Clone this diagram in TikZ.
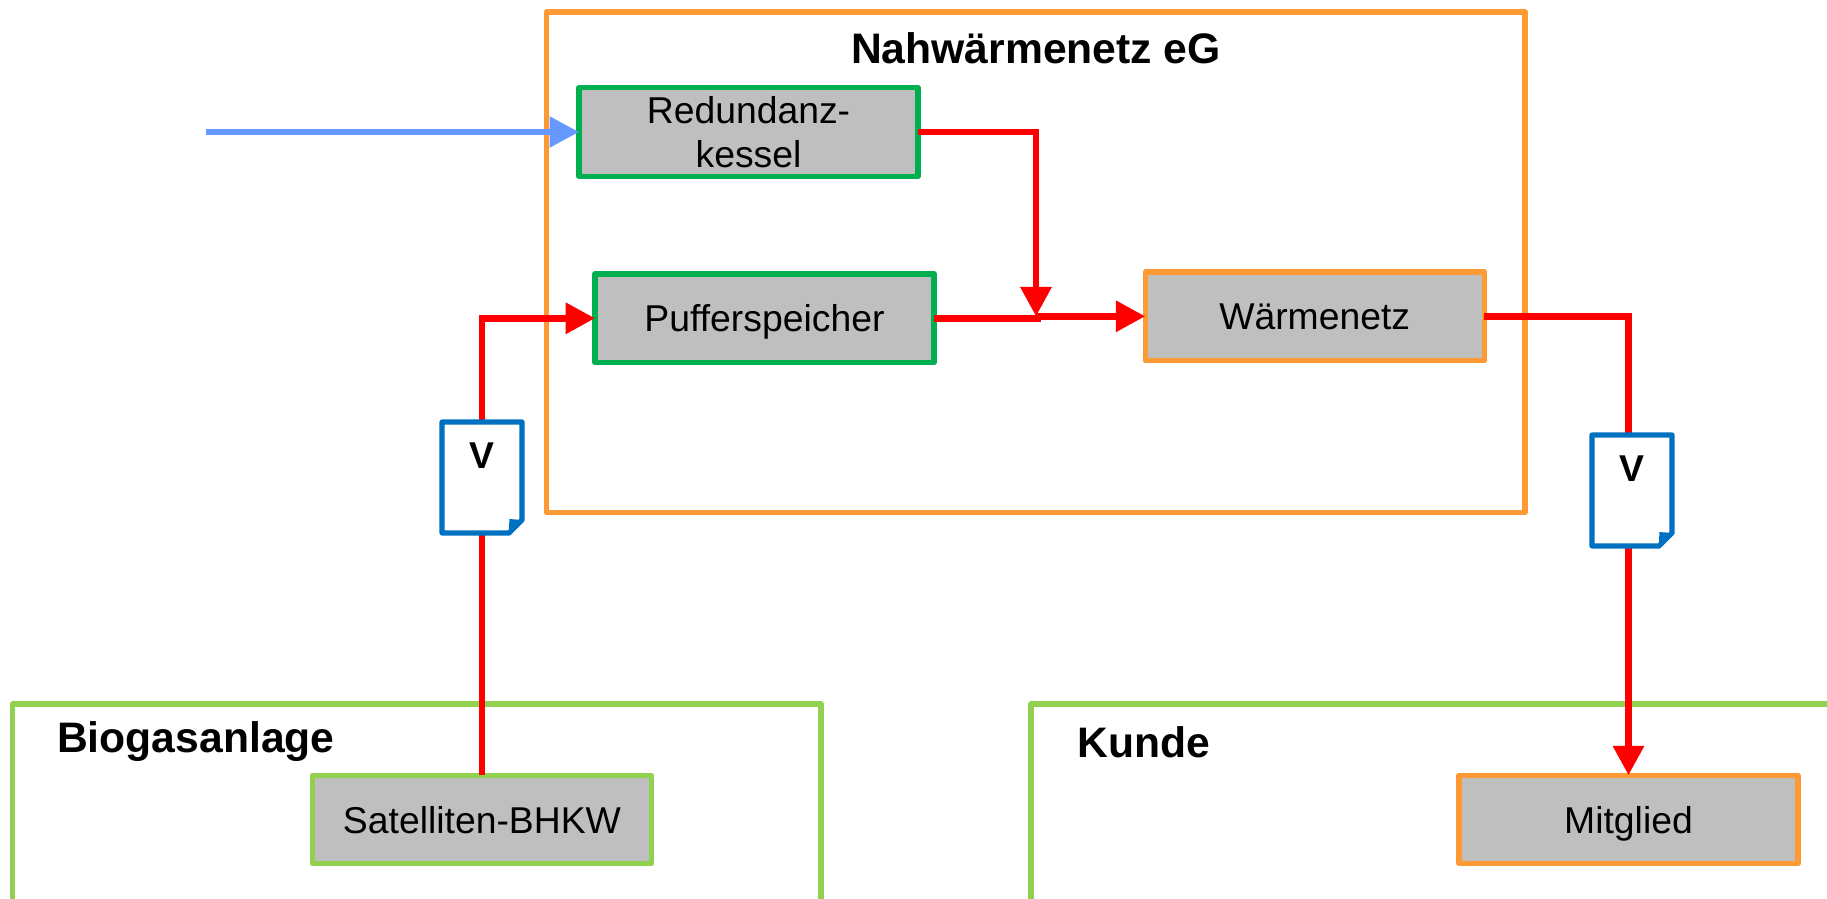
\documentclass[tikz,border=0pt]{standalone}
\usepackage{fontspec}
\setmainfont{Liberation Sans}
\usetikzlibrary{arrows.meta}

\definecolor{orangeline}{RGB}{255,153,51}
\definecolor{greenline}{RGB}{0,176,80}
\definecolor{limeline}{RGB}{146,208,80}
\definecolor{docblue}{RGB}{0,112,192}
\definecolor{gasblue}{RGB}{102,153,255}
\definecolor{boxgray}{RGB}{191,191,191}

\tikzset{every picture/.style={line width=3.9pt}}
\tikzset{
  unitbox/.style={draw,fill=boxgray,line join=round,outer sep=0pt,minimum width=254.25pt,minimum height=66.5pt,inner sep=0pt,align=center,font=\fontsize{28}{33}\selectfont},
  oneline/.style={text height=26.4pt,text depth=6pt},
  framebox/.style={line join=round},
  headlabel/.style={inner sep=0.75pt,font=\fontsize{32}{38}\selectfont\bfseries},
  docbox/.style={fill=white,outer sep=0pt,inner sep=0pt,minimum width=60pt,minimum height=83.25pt},
  docfold/.style={fill=docblue},
  flowline/.style={draw=red,line width=4.8pt,-{Triangle[length=22pt,width=22.5pt]}},
  plainline/.style={draw=red,line width=4.8pt}
}

\begin{document}
\begin{tikzpicture}[x=0.75pt,y=0.75pt,yscale=-1,xscale=1]
\useasboundingbox (0,0) rectangle (1827,899);

%Frames
\draw [framebox,orangeline] (546.5,12) rectangle (1525,512.5) ;
\draw [framebox,limeline] (12.5,899) -- (12.5,704) -- (821,704) -- (821,899) ;
\draw [framebox,limeline] (1031,899) -- (1031,704) -- (1827,704) ;

% Text Node
\node [headlabel] (title) at (1036,48) {Nahwärmenetz eG};
\node [headlabel,anchor=west] (biogas) at (53.5,742) {Biogasanlage};
\node [headlabel,anchor=west] (kunde) at (1074,742) {Kunde};

% Boxes
\node [unitbox,draw=greenline] (kessel) at (748.5,132) {Redundanz-\\kessel};
\node [unitbox,oneline,draw=greenline] (puffer) at (764.5,318.3) {Pufferspeicher};
\node [unitbox,oneline,draw=orangeline] (netz) at (1314.7,316.3) {Wärmenetz};
\node [unitbox,oneline,draw=limeline] (satellit) at (482,819.5) {Satelliten-BHKW};
\node [unitbox,oneline,draw=orangeline] (mitglied) at (1628.5,819.5) {Mitglied};

% Free end and junction
\coordinate (gas) at (206,132);
\coordinate (knoten) at (1036,316.3);

% Connectors
\draw [draw=gasblue,-{Triangle[length=22pt,width=22.5pt]}] (gas) -- (kessel.west) ;
\draw [flowline] (kessel.east) -| (knoten) ;
\draw [plainline] (puffer.east) -- (knoten |- puffer.east) -- ++(5,0) ;
\draw [flowline] (knoten) -- (netz.west) ;
\draw [flowline] (satellit.north) |- (puffer.west) ;
\draw [flowline] (netz.east) -| (mitglied.north) ;

% Documents
\node [docbox] (vleft) at (482,477.5) {};
\draw [draw=docblue,line join=round] (vleft.north west) -- (vleft.north east) -- ([yshift=-9.75pt]vleft.south east) -- ([xshift=-9.75pt]vleft.south east) -- (vleft.south west) -- cycle ;
\fill [docfold] ([yshift=-9.75pt]vleft.south east) -- ([xshift=-9.75pt]vleft.south east) -- ([xshift=-9.5pt,yshift=-10.5pt]vleft.south east) -- cycle ;
\node [font=\fontsize{28}{33}\selectfont\bfseries] (vlefttext) at (482,456) {V};

\node [docbox] (vright) at (1632,490.5) {};
\draw [draw=docblue,line join=round] (vright.north west) -- (vright.north east) -- ([yshift=-9.75pt]vright.south east) -- ([xshift=-9.75pt]vright.south east) -- (vright.south west) -- cycle ;
\fill [docfold] ([yshift=-9.75pt]vright.south east) -- ([xshift=-9.75pt]vright.south east) -- ([xshift=-9.5pt,yshift=-10.5pt]vright.south east) -- cycle ;
\node [font=\fontsize{28}{33}\selectfont\bfseries] (vrighttext) at (1632,469) {V};

\end{tikzpicture}
\end{document}
